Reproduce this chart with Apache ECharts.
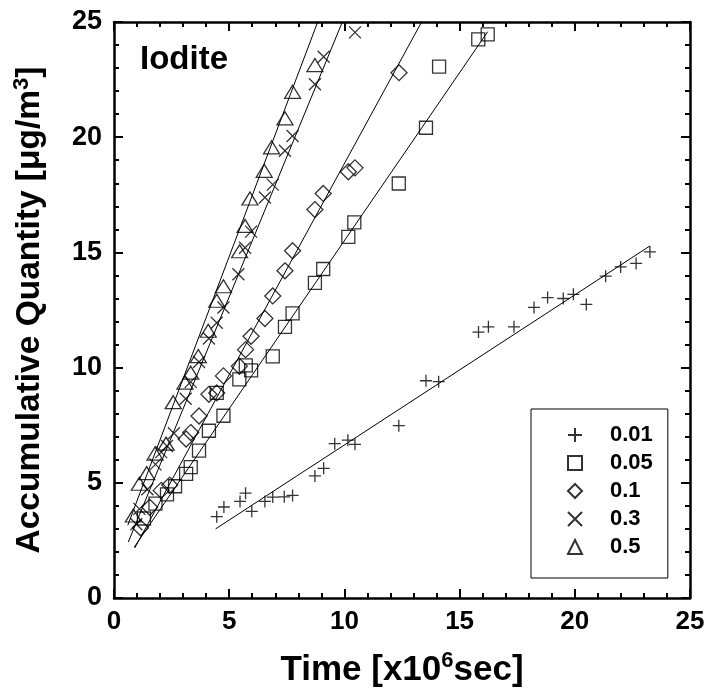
<!DOCTYPE html>
<html><head><meta charset="utf-8">
<script src="https://cdn.jsdelivr.net/npm/echarts@6/dist/echarts.min.js"></script>
<style>html,body{margin:0;padding:0;background:#fff}#c{width:713px;height:695px}</style>
</head><body><div id="c"></div><script>
// ---- data ----
const seriesNames = ['0.01', '0.05', '0.1', '0.3', '0.5'];
const xTickValues = [0, 5, 10, 15, 20, 25];
const yTickValues = [0, 5, 10, 15, 20, 25];

const data001 = [[4.46,3.53],[4.77,3.95],[5.47,4.19],[5.71,4.55],[5.98,3.76],[6.55,4.19],[6.89,4.38],[7.39,4.39],[7.75,4.45],[8.72,5.3],[9.1,5.63],[9.58,6.7],[10.15,6.85],[10.46,6.67],[12.36,7.48],[13.54,9.43],[14.09,9.39],[15.82,11.54],[16.25,11.77],[17.36,11.77],[18.23,12.61],[18.82,13.04],[19.5,13.0],[19.94,13.18],[20.5,12.74],[21.34,13.97],[21.99,14.37],[22.66,14.52],[23.26,15.02]];
const data005 = [[1.3,3.45],[1.8,4.1],[2.3,4.5],[2.65,4.85],[3.13,5.39],[3.33,5.68],[3.69,6.4],[4.12,7.26],[4.46,8.9],[4.75,7.91],[5.44,9.49],[5.72,10.1],[5.95,9.88],[6.89,10.49],[7.42,11.77],[7.75,12.35],[8.72,13.68],[9.08,14.28],[10.17,15.67],[10.43,16.3],[12.36,17.99],[13.54,20.41],[14.11,23.06],[15.81,24.25],[16.22,24.46]];
const data01 = [[1.15,3.05],[1.55,3.94],[2.05,4.67],[2.42,4.9],[3.13,6.9],[3.33,7.18],[3.69,7.9],[4.12,8.84],[4.46,8.9],[4.75,9.64],[5.44,10.06],[5.71,10.78],[5.95,11.36],[6.55,12.13],[6.89,13.11],[7.42,14.2],[7.75,15.07],[8.72,16.86],[9.08,17.56],[10.17,18.5],[10.46,18.67],[12.37,22.8]];
const data03 = [[0.97,3.2],[1.1,3.87],[1.45,4.72],[1.8,5.8],[2.05,6.33],[2.3,6.6],[2.6,7.15],[3.11,8.65],[3.33,9.38],[3.69,10.24],[4.12,11.26],[4.46,11.95],[4.75,12.61],[5.4,14.05],[5.69,15.2],[5.95,15.9],[6.55,17.38],[6.89,17.94],[7.42,19.41],[7.75,20.05],[8.72,22.3],[9.1,23.49],[10.46,24.55]];
const data05 = [[0.84,3.58],[1.1,4.96],[1.42,5.42],[1.78,6.27],[2.26,6.7],[2.57,8.5],[3.08,9.35],[3.33,9.78],[3.66,10.5],[4.09,11.6],[4.46,12.9],[4.75,13.53],[5.45,15.05],[5.69,16.15],[5.9,17.34],[6.52,18.54],[6.84,19.56],[7.42,20.82],[7.75,21.97],[8.72,23.13]];

// fitted lines (end points)
const fit001 = [[4.41,3.0],[23.26,15.28]];
const fit005 = [[0.88,2.21],[16.22,24.58]];
const fit01 = [[0.9,2.17],[13.35,25]];
const fit03 = [[0.62,2.43],[9.91,25]];
const fit05 = [[0.6,3.16],[8.84,25]];

// ---- chart ----
const chart = echarts.init(document.getElementById('c'), null, {renderer: 'canvas'});
const BLACK = '#000';
const SANS = '"Liberation Sans", Arial, Helvetica, sans-serif';
const hollow = {color: 'rgba(0,0,0,0)', borderColor: BLACK, borderWidth: 1.3};
const symbols = {
  '0.01': {symbol: 'path://M0,6L12,6M6,0L6,12', size: 12},
  '0.05': {symbol: 'rect', size: 13},
  '0.1': {symbol: 'diamond', size: [16, 16]},
  '0.3': {symbol: 'path://M0,0L12,12M0,12L12,0', size: 12},
  '0.5': {symbol: 'triangle', size: [16, 13]}
};
const dataMap = {'0.01': data001, '0.05': data005, '0.1': data01, '0.3': data03, '0.5': data05};
const fits = [fit001, fit005, fit01, fit03, fit05];

const axisCommon = {
  type: 'value', min: 0, max: 25, interval: 5,
  axisLine: {show: true, onZero: false, lineStyle: {color: BLACK, width: 2.5}},
  axisTick: {show: true, inside: true, length: 9, lineStyle: {color: BLACK, width: 2}},
  minorTick: {show: true, splitNumber: 5, length: 5, lineStyle: {color: BLACK, width: 2}},
  splitLine: {show: false}, minorSplitLine: {show: false}
};

const series = [];
seriesNames.forEach((n) => {
  series.push({
    name: n, type: 'scatter', data: dataMap[n],
    symbol: symbols[n].symbol, symbolSize: symbols[n].size,
    itemStyle: hollow, z: 3, emphasis: {disabled: true}
  });
});
fits.forEach(f => {
  series.push({
    type: 'line', data: f, showSymbol: false, symbol: 'none', silent: true,
    lineStyle: {color: BLACK, width: 1}, z: 2, clip: true
  });
});

chart.setOption({
  animation: false,
  backgroundColor: '#fff',
  title: {
    text: 'Iodite', left: 135, top: 38,
    textStyle: {fontFamily: SANS, fontWeight: 'bold', fontSize: 33, color: BLACK}
  },
  grid: {left: 114, right: 23, top: 22, bottom: 97, containLabel: false, outerBoundsMode: 'none'},
  legend: {
    data: seriesNames, orient: 'vertical', left: 531, top: 409,
    itemWidth: 14, itemHeight: 14, itemGap: 0, symbolKeepAspect: true,
    padding: [12, 15, 17, 36],
    borderColor: BLACK, borderWidth: 1, backgroundColor: '#fff',
    textStyle: {fontFamily: SANS, fontWeight: 'bold', fontSize: 22, color: BLACK, lineHeight: 28, padding: [0, 0, 0, 23]},
    selectedMode: false
  },
  xAxis: [
    Object.assign({}, axisCommon, {
      position: 'bottom',
      axisLabel: {show: true, margin: 11, fontFamily: SANS, fontWeight: 'bold', fontSize: 26, color: BLACK,
        customValues: xTickValues},
      name: '{a|Time [x10}{s|6}{a|sec]}', nameLocation: 'middle', nameGap: 52,
      nameTextStyle: {color: BLACK, rich: {
        a: {fontFamily: SANS, fontWeight: 'bold', fontSize: 35, color: BLACK, lineHeight: 40},
        s: {fontFamily: SANS, fontWeight: 'bold', fontSize: 22, color: BLACK, verticalAlign: 'top', lineHeight: 40, padding: [0, 0, 18, 0]}
      }}
    }),
    Object.assign({}, axisCommon, {position: 'top', axisLabel: {show: false}})
  ],
  yAxis: [
    Object.assign({}, axisCommon, {
      position: 'left',
      axisLabel: {show: true, margin: 12, fontFamily: SANS, fontWeight: 'bold', fontSize: 27, color: BLACK,
        customValues: yTickValues},
      name: '{a|Accumulative Quantity [μg/m}{s|3}{a|]}', nameLocation: 'middle', nameGap: 65, nameRotate: 90,
      nameTextStyle: {color: BLACK, rich: {
        a: {fontFamily: SANS, fontWeight: 'bold', fontSize: 33.5, color: BLACK, lineHeight: 38},
        s: {fontFamily: SANS, fontWeight: 'bold', fontSize: 22, color: BLACK, verticalAlign: 'top', lineHeight: 38, padding: [0, 0, 17, 0]}
      }}
    }),
    Object.assign({}, axisCommon, {position: 'right', axisLabel: {show: false}})
  ],
  series: series
});
</script></body></html>
